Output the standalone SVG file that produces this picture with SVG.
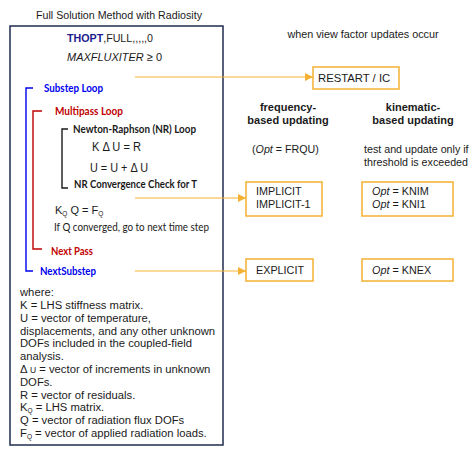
<svg xmlns="http://www.w3.org/2000/svg" width="476" height="453" viewBox="0 0 476 453">
<defs>
<style>
.a{font-family:"Liberation Sans",Arial,sans-serif;fill:#1a1a1a}
.c{font-family:Lato,"Liberation Sans",sans-serif;font-weight:bold}
.ob{fill:none;stroke:#F4B133;stroke-width:1.5}
.ol{fill:none;stroke:#F4B133;stroke-width:1.2}
.br{fill:none;stroke-width:1.4}
</style>
<marker id="ah" viewBox="0 0 10 10" refX="10" refY="5" markerWidth="8" markerHeight="8" markerUnits="userSpaceOnUse" orient="auto">
<path d="M0,0 L10,5 L0,10 Z" fill="#F4B133"/>
</marker>
</defs>
<rect width="476" height="453" fill="#fff"/>

<text class="a" x="119" y="19" font-size="11" text-anchor="middle" textLength="166" lengthAdjust="spacingAndGlyphs">Full Solution Method with Radiosity</text>

<g id="main">
<rect x="10" y="26" width="213" height="419" fill="none" stroke="#1F2D4E" stroke-width="1.5"/>
<text class="a" x="67" y="42" font-size="11.5" textLength="86" lengthAdjust="spacingAndGlyphs"><tspan font-weight="bold" fill="#1C1C8E">THOPT</tspan>,FULL,,,,,0</text>
<text class="a" x="67" y="61" font-size="11.5" font-style="italic" textLength="95" lengthAdjust="spacingAndGlyphs">MAXFLUXITER  <tspan font-style="normal">≥ 0</tspan></text>

<g id="substep">
<path class="br" stroke="#0000EE" d="M33,88 H26 V271 H33"/>
<text class="c" x="44" y="92" font-size="10.5" fill="#0000EE" textLength="59" lengthAdjust="spacingAndGlyphs">Substep Loop</text>
<text class="c" x="40" y="275" font-size="10.5" fill="#0000EE" textLength="56" lengthAdjust="spacingAndGlyphs">NextSubstep</text>
</g>
<g id="multipass">
<path class="br" stroke="#C00000" d="M42,111 H33 V249 H42"/>
<text class="c" x="55" y="115" font-size="10.5" fill="#C00000" textLength="68" lengthAdjust="spacingAndGlyphs">Multipass Loop</text>
<text class="c" x="51" y="255" font-size="10.5" fill="#C00000" textLength="42" lengthAdjust="spacingAndGlyphs">Next Pass</text>
</g>
<g id="nr">
<path class="br" stroke="#1a1a1a" stroke-width="1.2" d="M68,129 H62 V188 H68"/>
<text class="c" x="73" y="133" font-size="10.5" fill="#1a1a1a" textLength="123" lengthAdjust="spacingAndGlyphs">Newton-Raphson (NR) Loop</text>
<text class="a" x="92" y="151" font-size="12" textLength="49" lengthAdjust="spacingAndGlyphs">K Δ U = R</text>
<text class="a" x="90" y="172" font-size="12" textLength="58" lengthAdjust="spacingAndGlyphs">U = U + Δ U</text>
<text class="c" x="74" y="188" font-size="10.5" fill="#1a1a1a" textLength="123" lengthAdjust="spacingAndGlyphs">NR Convergence Check for T</text>
</g>
<text class="a" x="55" y="214" font-size="11">K<tspan font-size="6.5" dy="2">Q</tspan><tspan dy="-2"> Q = F</tspan><tspan font-size="6.5" dy="2">Q</tspan></text>
<text x="54" y="231" font-family="Lato,'Liberation Sans',sans-serif" font-size="10.5" fill="#1a1a1a" textLength="155" lengthAdjust="spacingAndGlyphs">If Q converged, go to next time step</text>

<g class="a" font-size="11.25">
<text x="20" y="296">where:</text>
<text x="20" y="309">K = LHS stiffness matrix.</text>
<text x="20" y="322">U = vector of temperature,</text>
<text x="20" y="335">displacements, and any other unknown</text>
<text x="20" y="347">DOFs included in the coupled-field</text>
<text x="20" y="360">analysis.</text>
<text x="20" y="373">Δ <tspan font-size="8.5">U</tspan> = vector of increments in unknown</text>
<text x="20" y="386">DOFs.</text>
<text x="20" y="399">R = vector of residuals.</text>
<text x="20" y="411">K<tspan font-size="6.5" dy="2">Q</tspan><tspan dy="-2"> = LHS matrix.</tspan></text>
<text x="20" y="424">Q = vector of radiation flux DOFs</text>
<text x="20" y="437">F<tspan font-size="6.5" dy="2">Q</tspan><tspan dy="-2"> = vector of applied radiation loads.</tspan></text>
</g>
</g>

<text class="a" x="363" y="38" font-size="10.8" text-anchor="middle">when view factor updates occur</text>

<g class="a" font-size="11" font-weight="bold" text-anchor="middle">
<text x="288" y="111">frequency-</text>
<text x="288" y="124">based updating</text>
<text x="413" y="111">kinematic-</text>
<text x="413" y="124">based updating</text>
</g>
<text class="a" x="252" y="153" font-size="10.7">(<tspan font-style="italic">Opt</tspan> = FRQU)</text>
<text class="a" x="364" y="153" font-size="10.7">test and update only if</text>
<text class="a" x="364" y="166" font-size="10.7">threshold is exceeded</text>

<g id="restart">
<rect class="ob" x="313" y="67" width="86" height="22"/>
<text class="a" x="318" y="82" font-size="11.3">RESTART / IC</text>
</g>
<g id="implicit">
<rect class="ob" x="246" y="182" width="76" height="34"/>
<text class="a" x="256" y="195" font-size="10.8">IMPLICIT</text>
<text class="a" x="256" y="208" font-size="10.8">IMPLICIT-1</text>
</g>
<g id="knim">
<rect class="ob" x="362" y="182" width="91" height="34"/>
<text class="a" x="372" y="195" font-size="10.8"><tspan font-style="italic">Opt</tspan> = KNIM</text>
<text class="a" x="372" y="208" font-size="10.8"><tspan font-style="italic">Opt</tspan> = KNI1</text>
</g>
<g id="explicit">
<rect class="ob" x="246" y="259" width="67" height="22"/>
<text class="a" x="256" y="274" font-size="10.8">EXPLICIT</text>
</g>
<g id="knex">
<rect class="ob" x="362" y="259" width="91" height="22"/>
<text class="a" x="372" y="274" font-size="10.8"><tspan font-style="italic">Opt</tspan> = KNEX</text>
</g>

<g id="connectors">
<path class="ol" d="M135,77 H313" marker-end="url(#ah)"/>
<path class="ol" d="M135,198 H246" marker-end="url(#ah)"/>
<path class="ol" d="M135,271 H246" marker-end="url(#ah)"/>
</g>
</svg>
